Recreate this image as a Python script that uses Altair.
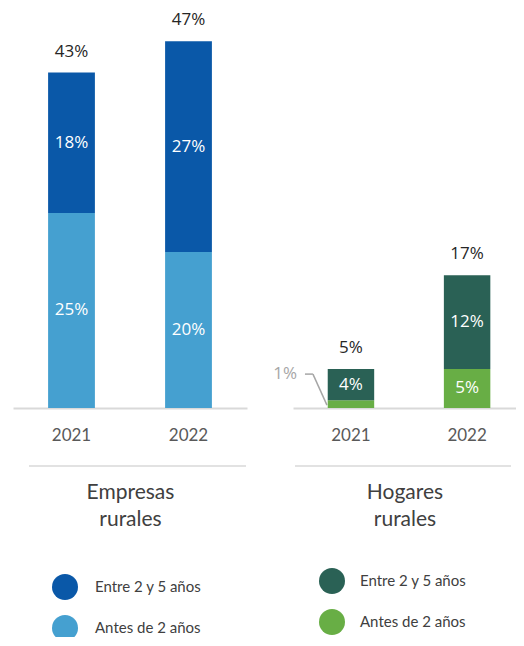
import altair as alt
import pandas as pd

years = ["2021", "2022"]
series = ["Entre 2 y 5 años", "Antes de 2 años"]
empresas_entre = [18, 27]
empresas_antes = [25, 20]
hogares_entre = [4, 12]
hogares_antes = [1, 5]
empresas_title = ["Empresas", "rurales"]
hogares_title = ["Hogares", "rurales"]
empresas_colors = ["#0a58a8", "#45a0d0"]
hogares_colors = ["#2a6155", "#68ae45"]


def build_df(entre, antes):
    rows = []
    for i, yr in enumerate(years):
        base = 0
        for s, v, o in [(series[1], antes[i], 0), (series[0], entre[i], 1)]:
            rows.append(dict(year=yr, serie=s, value=v, order=o, mid=base + v / 2, label=f"{v}%"))
            base += v
    return pd.DataFrame(rows)


def totals_df(entre, antes):
    tot = [a + b for a, b in zip(entre, antes)]
    return pd.DataFrame({"year": years, "total": tot, "label": [f"{t}%" for t in tot]})


def panel(entre, antes, colors, title, width, pad_outer, align, legend_x, legend_y,
          label_offset, sep_x1, sep_x2):
    df = build_df(entre, antes)
    tot = totals_df(entre, antes)
    x = alt.X(
        "year:N",
        sort=years,
        scale=alt.Scale(paddingInner=0.6, paddingOuter=pad_outer, align=align),
        axis=alt.Axis(
            title=title, labelAngle=0, ticks=False, tickSize=0, labelPadding=19,
            labelFont="Lato", labelFontSize=17, labelColor="#595959",
            domainColor="#d9d9d9", domainWidth=2,
            titleFont="Lato", titleFontSize=21, titleFontWeight="normal",
            titleColor="#404040", titlePadding=38, titleLineHeight=27,
        ),
    )
    yscale = alt.Scale(domain=[0, 50.5], nice=False)
    bars = alt.Chart(df).mark_bar().encode(
        x=x,
        y=alt.Y("value:Q", stack="zero", scale=yscale, axis=None),
        color=alt.Color(
            "serie:N",
            scale=alt.Scale(domain=series, range=colors),
            legend=alt.Legend(
                title=None, orient="none", legendX=legend_x, legendY=legend_y,
                direction="vertical", symbolType="circle", symbolSize=676,
                symbolStrokeWidth=0, symbolOpacity=1, labelFont="Lato",
                labelFontSize=15, labelColor="#404040", labelOffset=label_offset,
                rowPadding=15, padding=0,
            ),
        ),
        order=alt.Order("order:Q"),
    )
    inside = alt.Chart(df).transform_filter(alt.datum.value >= 3).mark_text(
        color="white", fontSize=17, font="Open Sans"
    ).encode(x=x, y=alt.Y("mid:Q", scale=yscale), text="label:N")
    totals = alt.Chart(tot).mark_text(
        dy=-21, fontSize=17, font="Open Sans", color="#262626"
    ).encode(x=x, y=alt.Y("total:Q", scale=yscale), text="label:N")
    small = df[df.value < 3]
    layers = [bars, inside, totals]
    if len(small):
        layers.append(
            alt.Chart(small).mark_text(
                align="right", dx=-54, dy=-30, fontSize=17, font="Open Sans", color="#a6a6a6"
            ).encode(x=x, y=alt.Y("mid:Q", scale=yscale), text="label:N")
        )
        layers.append(
            alt.Chart(small).mark_rule(
                xOffset=-46, x2Offset=-38, yOffset=-30, color="#a6a6a6", strokeWidth=1.5
            ).encode(x=x, x2="year", y=alt.Y("mid:Q", scale=yscale))
        )
        layers.append(
            alt.Chart(small).mark_rule(
                xOffset=-38, x2Offset=-24, yOffset=-30, y2Offset=1, color="#a6a6a6", strokeWidth=1.5
            ).encode(x=x, x2="year", y=alt.Y("mid:Q", scale=yscale), y2="mid")
        )
    sep = alt.Chart(pd.DataFrame({"k": [0]})).mark_rule(color="#d9d9d9", strokeWidth=1.5).encode(
        x=alt.value(sep_x1), x2=alt.value(sep_x2), y=alt.value(452)
    )
    layers.append(sep)
    return alt.layer(*layers).properties(width=width, height=394)


left = panel(empresas_entre, empresas_antes, empresas_colors, empresas_title,
             234, 0.3, 0.5, 39, 560, 17, 16, 233)
right = panel(hogares_entre, hogares_antes, hogares_colors, hogares_title,
              223, 0.26, 0.575, 26, 554, 15, 2, 218)

chart = (
    alt.hconcat(left, right, spacing=46, bounds="flush")
    .resolve_scale(color="independent")
    .resolve_legend(color="independent")
    .configure_view(stroke=None)
    .properties(padding={"left": 5, "top": 3, "right": 0, "bottom": -4})
)

chart.save("out.html", embed_options={"renderer": "svg", "actions": False})
